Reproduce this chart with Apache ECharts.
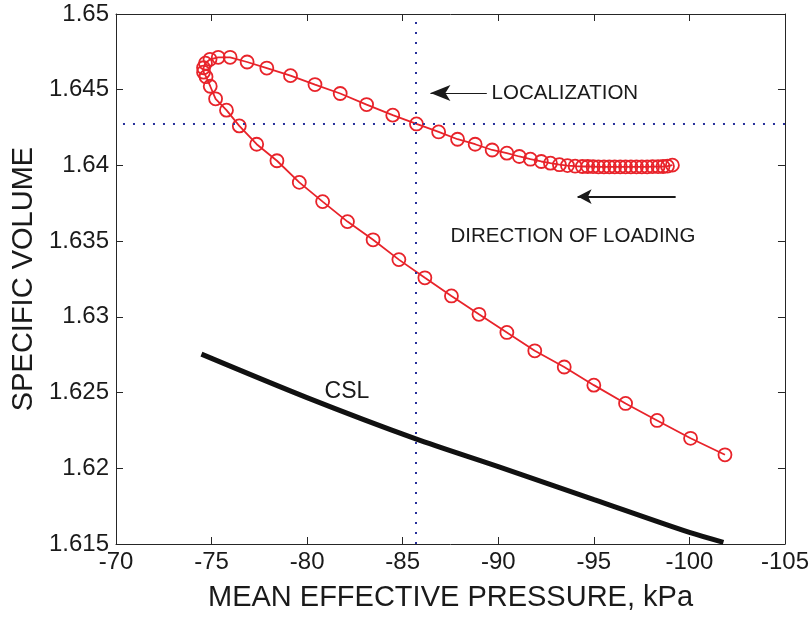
<!DOCTYPE html>
<html>
<head>
<meta charset="utf-8">
<script src="https://cdn.jsdelivr.net/npm/echarts@6/dist/echarts.min.js"></script>
<style>
html, body { margin: 0; padding: 0; background: #fff; }
#chart { width: 812px; height: 617px; }
</style>
</head>
<body>
<div id="chart"></div>
<script>
// axis ticks
var xTicks = [-70, -75, -80, -85, -90, -95, -100, -105];
var yTicks = [1.615, 1.62, 1.625, 1.63, 1.635, 1.64, 1.645, 1.65];

// stress path (mean effective pressure, specific volume), in loading order
var pathP = [-99.11, -98.85, -98.62, -98.36, -98.07, -97.79, -97.51, -97.23, -96.94, -96.66,
	-96.38, -96.09, -95.81, -95.53, -95.24, -94.96, -94.68, -94.40, -94.02, -93.62,
	-93.20, -92.73, -92.25, -91.68, -91.10, -90.45, -89.68, -88.79, -87.87, -86.88,
	-85.72, -84.48, -83.11, -81.73, -80.41, -79.13, -77.89, -76.86, -75.97, -75.35,
	-74.92, -74.68, -74.58, -74.58, -74.71,
	-74.93, -75.21, -75.78, -76.45, -77.36, -78.42, -79.59, -80.81, -82.11, -83.45,
	-84.80, -86.16, -87.55, -88.99, -90.45, -91.91, -93.45, -95.00, -96.66, -98.31,
	-100.06, -101.86];
var pathV = [1.64002, 1.63995, 1.63993, 1.63992, 1.63992, 1.63991, 1.63991, 1.63991, 1.63991, 1.63991,
	1.63991, 1.63991, 1.63991, 1.63991, 1.63991, 1.63992, 1.63993, 1.63993, 1.63995, 1.63999,
	1.64005, 1.64015, 1.64026, 1.64041, 1.64059, 1.64081, 1.64102, 1.64140, 1.64173, 1.64221,
	1.64274, 1.64332, 1.64402, 1.64475, 1.64534, 1.64593, 1.64643, 1.64683, 1.64714, 1.64714,
	1.64701, 1.64675, 1.64645, 1.64616, 1.64586,
	1.64523, 1.64440, 1.64365, 1.64261, 1.64140, 1.64031, 1.63888, 1.63761, 1.63629, 1.63509,
	1.63378, 1.63258, 1.63138, 1.63017, 1.62897, 1.62776, 1.62669, 1.62549, 1.62428, 1.62316,
	1.62198, 1.62089];

// critical state line
var cslP = [-74.47, -79.99, -85.65, -90.00, -95.01, -100.00, -101.78];
var cslV = [1.62754, 1.62467, 1.62196, 1.62011, 1.61793, 1.61576, 1.61511];

// localization point (dotted cross-hairs)
var locP = -85.7;
var locV = 1.64275;

var fontFam = 'Liberation Sans, Arial, sans-serif';
var axisColor = '#262626';

function zip(a, b) {
	return a.map(function(v, i) { return [v, b[i]]; });
}

function initChart() {
	var dom = document.getElementById('chart');
	var myChart = echarts.init(dom);

	var xMin = Math.min.apply(null, xTicks);
	var xMax = Math.max.apply(null, xTicks);
	var yMin = yTicks[0];
	var yMax = yTicks[yTicks.length - 1];
	var xStep = Math.abs(xTicks[1] - xTicks[0]);
	var yStep = Math.round((yTicks[1] - yTicks[0]) * 1000) / 1000;

	var axisBase = {
		splitLine: { show: false },
		axisLine: { onZero: false, lineStyle: { color: axisColor, width: 1 } },
		axisTick: { inside: true, length: 7, lineStyle: { color: axisColor, width: 1 } }
	};
	var dotted = { color: '#27309a', type: [2, 8], width: 2 };

	var option = {
		animation: false,
		backgroundColor: '#fff',
		grid: { left: 116, right: 16, top: 14, bottom: 70 },
		xAxis: [
			Object.assign({
				type: 'value',
				min: xMin,
				max: xMax,
				interval: xStep,
				inverse: true,
				position: 'bottom',
				name: 'MEAN EFFECTIVE PRESSURE, kPa',
				nameLocation: 'middle',
				nameGap: 39,
				nameTextStyle: { fontSize: 29, color: '#1a1a1a', fontFamily: fontFam },
				axisLabel: { fontSize: 24, color: '#1a1a1a', fontFamily: fontFam, margin: 6 }
			}, axisBase),
			Object.assign({
				type: 'value',
				min: xMin,
				max: xMax,
				interval: xStep,
				inverse: true,
				position: 'top',
				axisLabel: { show: false }
			}, axisBase)
		],
		yAxis: [
			Object.assign({
				type: 'value',
				min: yMin,
				max: yMax,
				interval: yStep,
				position: 'left',
				name: 'SPECIFIC VOLUME',
				nameLocation: 'middle',
				nameGap: 77,
				nameTextStyle: { fontSize: 29, color: '#1a1a1a', fontFamily: fontFam },
				axisLabel: {
					fontSize: 24, color: '#1a1a1a', fontFamily: fontFam, margin: 7,
					formatter: function(v) { return String(+v.toFixed(3)); }
				}
			}, axisBase),
			Object.assign({
				type: 'value',
				min: yMin,
				max: yMax,
				interval: yStep,
				position: 'right',
				axisLabel: { show: false }
			}, axisBase)
		],
		series: [
			{
				name: 'CSL',
				type: 'line',
				data: zip(cslP, cslV),
				symbol: 'none',
				smooth: 0.3,
				lineStyle: { color: '#111', width: 5 },
				silent: true
			},
			{
				name: 'path',
				type: 'line',
				data: zip(pathP, pathV),
				symbol: 'circle',
				symbolSize: 13,
				itemStyle: { color: 'rgba(0,0,0,0)', borderColor: '#e8232a', borderWidth: 1.8 },
				lineStyle: { color: '#e8232a', width: 1.8 },
				silent: true
			},
			{
				name: 'notes',
				type: 'line',
				data: [[locP, locV]],
				symbol: 'none',
				silent: true,
				markLine: {
					silent: true,
					symbol: 'none',
					label: { show: false },
					data: [
						[
							{ coord: [locP, yMin], lineStyle: dotted },
							{ coord: [locP, yMax] }
						],
						[
							{ coord: [xMin, locV], lineStyle: dotted },
							{ coord: [xMax, locV] }
						],
						[
							{ coord: [-89.4, 1.64478], symbol: 'none', lineStyle: { color: '#1a1a1a', width: 1, type: 'solid' } },
							{ coord: [-86.45, 1.64478], symbol: 'arrow', symbolSize: [12, 20] }
						],
						[
							{ coord: [-99.28, 1.63794], symbol: 'none', lineStyle: { color: '#1a1a1a', width: 2, type: 'solid' } },
							{ coord: [-94.15, 1.63794], symbol: 'arrow', symbolSize: [11, 14] }
						]
					]
				},
				markPoint: {
					silent: true,
					symbol: 'circle',
					symbolSize: 0,
					label: {
						show: true, position: 'right', distance: 0,
						fontSize: 20.5, color: '#1a1a1a', fontFamily: fontFam
					},
					data: [
						{ coord: [-89.65, 1.64478], label: { formatter: 'LOCALIZATION' } },
						{ coord: [-87.5, 1.63532], label: { formatter: 'DIRECTION OF LOADING' } },
						{ coord: [-80.91, 1.62505], label: { formatter: 'CSL', fontSize: 23 } }
					]
				}
			}
		]
	};

	myChart.setOption(option, true);
}

onload = function() {
	initChart();
};
</script>
</body>
</html>
